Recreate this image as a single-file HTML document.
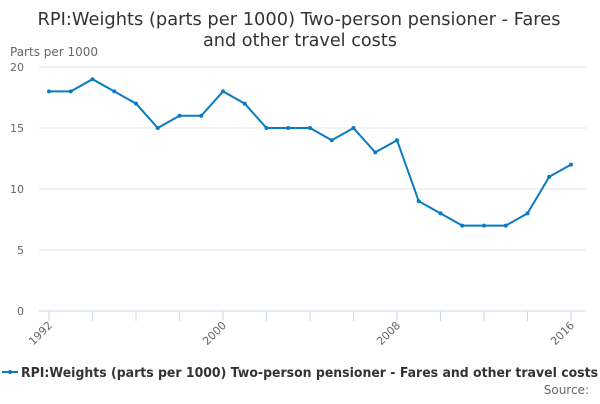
<!DOCTYPE html>
<html><head><meta charset="utf-8"><style>
body{margin:0;background:#fff;font-family:"DejaVu Sans","Liberation Sans",sans-serif;}
</style></head><body>
<svg id="chart" width="600" height="400" xmlns="http://www.w3.org/2000/svg">
<text x="299" y="25" text-anchor="middle" font-size="17.5" fill="#333" textLength="523" lengthAdjust="spacingAndGlyphs">RPI:Weights (parts per 1000) Two-person pensioner - Fares</text>
<text x="300" y="46" text-anchor="middle" font-size="17.5" fill="#333" textLength="194" lengthAdjust="spacingAndGlyphs">and other travel costs</text>
<text x="10" y="56" font-size="12" fill="#666">Parts per 1000</text>
<g id="grid"></g><g id="xaxis"></g><g id="series"></g>
<g>
<line x1="2" y1="372" x2="18" y2="372" stroke="#0a7bc1" stroke-width="2"/>
<circle cx="10" cy="372" r="2" fill="#0a7bc1"/>
<text x="21" y="377" font-size="13" font-weight="bold" fill="#333" textLength="577" lengthAdjust="spacingAndGlyphs">RPI:Weights (parts per 1000) Two-person pensioner - Fares and other travel costs</text>
</g>
<text x="589" y="394" text-anchor="end" font-size="12" fill="#666">Source:</text>
</svg>
<script>
const years=[1992,1993,1994,1995,1996,1997,1998,1999,2000,2001,2002,2003,2004,2005,2006,2007,2008,2009,2010,2011,2012,2013,2014,2015,2016];
const values=[18,18,19,18,17,15,16,16,18,17,15,15,15,14,15,13,14,9,8,7,7,7,8,11,12];
const yTicks=[0,5,10,15,20];
const xLabels=[1992,2000,2008,2016];
const NS="http://www.w3.org/2000/svg";
const xS=y=>49+(y-1992)*(571-49)/24;
const yS=v=>311-v*12.2;
function mk(t,a,p){const e=document.createElementNS(NS,t);for(const k in a)e.setAttribute(k,a[k]);p.appendChild(e);return e;}
const grid=document.getElementById('grid');
yTicks.forEach(v=>{
 const l=mk('line',{x1:39,x2:586,y1:yS(v),y2:yS(v),stroke:v===0?'#ccd6eb':'#e6e6e6'},grid);
 
 
 const t=mk('text',{x:24,y:yS(v)+4,'text-anchor':'end','font-size':11,fill:'#666'},grid);t.textContent=v;
 
 
});
const xa=document.getElementById('xaxis');
for(let y=1992;y<=2016;y+=2){
 const l=mk('line',{x1:xS(y),x2:xS(y),y1:311,y2:321,stroke:'#ccd6eb'},xa);
 
 
}
xLabels.forEach(y=>{
 const t=mk('text',{x:xS(y)+4,y:326,'text-anchor':'end','font-size':11,fill:'#666',transform:`rotate(-45 ${xS(y)+4} 326)`},xa);t.textContent=y;
 
 
});
const s=document.getElementById('series');
const p=mk('polyline',{points:years.map((y,i)=>xS(y)+','+yS(values[i])).join(' '),fill:'none',stroke:'#0a7bc1','stroke-width':2},s);


years.forEach((y,i)=>{
 const c=mk('circle',{cx:xS(y),cy:yS(values[i]),r:2,fill:'#0a7bc1'},s);
 
 
});
</script>
</body></html>
